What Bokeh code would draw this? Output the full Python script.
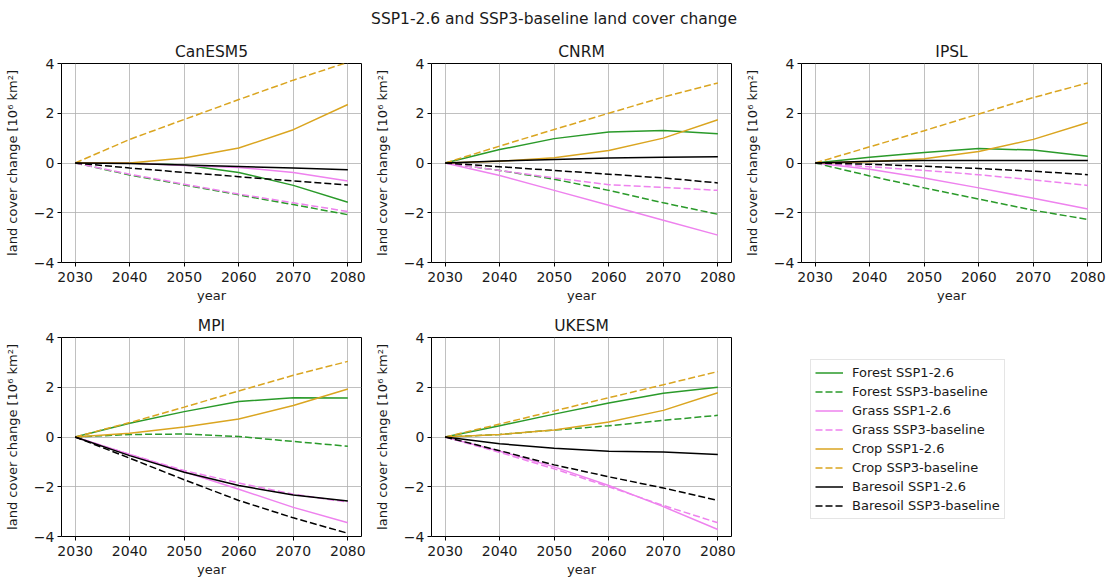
from bokeh.plotting import figure
from bokeh.layouts import row, column
from bokeh.models import Range1d, FixedTicker, Legend, LegendItem
from bokeh.embed import file_html
from bokeh.resources import INLINE

years = [2030, 2040, 2050, 2060, 2070, 2080]
models = ["CanESM5", "CNRM", "IPSL", "MPI", "UKESM"]
suptitle = "SSP1-2.6 and SSP3-baseline land cover change"
y_ticks = [-4, -2, 0, 2, 4]
y_tick_labels = ["−4", "−2", "0", "2", "4"]

# CanESM5
canesm5_forest_ssp126 = [0, 0.0, -0.08, -0.38, -0.9, -1.58]
canesm5_forest_ssp3 = [0, -0.48, -0.88, -1.28, -1.67, -2.08]
canesm5_grass_ssp126 = [0, 0.0, -0.1, -0.18, -0.38, -0.72]
canesm5_grass_ssp3 = [0, -0.45, -0.85, -1.25, -1.6, -1.95]
canesm5_crop_ssp126 = [0, 0.0, 0.2, 0.6, 1.34, 2.35]
canesm5_crop_ssp3 = [0, 0.95, 1.75, 2.55, 3.33, 4.05]
canesm5_bare_ssp126 = [0, -0.02, -0.08, -0.14, -0.2, -0.27]
canesm5_bare_ssp3 = [0, -0.2, -0.38, -0.55, -0.72, -0.88]

# CNRM
cnrm_forest_ssp126 = [0, 0.54, 0.98, 1.25, 1.31, 1.18]
cnrm_forest_ssp3 = [0, -0.3, -0.65, -1.1, -1.6, -2.06]
cnrm_grass_ssp126 = [0, -0.5, -1.1, -1.7, -2.3, -2.9]
cnrm_grass_ssp3 = [0, -0.3, -0.6, -0.87, -0.98, -1.1]
cnrm_crop_ssp126 = [0, 0.07, 0.21, 0.5, 1.0, 1.74]
cnrm_crop_ssp3 = [0, 0.68, 1.35, 2.0, 2.65, 3.22]
cnrm_bare_ssp126 = [0, 0.08, 0.14, 0.2, 0.23, 0.25]
cnrm_bare_ssp3 = [0, -0.15, -0.3, -0.45, -0.6, -0.8]

# IPSL
ipsl_forest_ssp126 = [0, 0.23, 0.42, 0.58, 0.52, 0.27]
ipsl_forest_ssp3 = [0, -0.52, -1.0, -1.45, -1.9, -2.27]
ipsl_grass_ssp126 = [0, -0.25, -0.6, -1.0, -1.42, -1.85]
ipsl_grass_ssp3 = [0, -0.15, -0.3, -0.47, -0.68, -0.9]
ipsl_crop_ssp126 = [0, 0.05, 0.17, 0.46, 0.95, 1.63]
ipsl_crop_ssp3 = [0, 0.65, 1.3, 1.97, 2.63, 3.22]
ipsl_bare_ssp126 = [0, 0.07, 0.1, 0.1, 0.1, 0.1]
ipsl_bare_ssp3 = [0, -0.05, -0.13, -0.22, -0.33, -0.47]

# MPI
mpi_forest_ssp126 = [0, 0.55, 1.02, 1.43, 1.58, 1.57]
mpi_forest_ssp3 = [0, 0.1, 0.12, 0.02, -0.18, -0.37]
mpi_grass_ssp126 = [0, -0.7, -1.4, -2.1, -2.83, -3.45]
mpi_grass_ssp3 = [0, -0.7, -1.35, -1.85, -2.3, -2.62]
mpi_crop_ssp126 = [0, 0.15, 0.4, 0.72, 1.27, 1.93]
mpi_crop_ssp3 = [0, 0.58, 1.2, 1.85, 2.48, 3.04]
mpi_bare_ssp126 = [0, -0.75, -1.42, -1.95, -2.33, -2.57]
mpi_bare_ssp3 = [0, -0.85, -1.72, -2.55, -3.25, -3.87]

# UKESM
ukesm_forest_ssp126 = [0, 0.45, 0.92, 1.37, 1.76, 2.0]
ukesm_forest_ssp3 = [0, 0.1, 0.28, 0.45, 0.67, 0.87]
ukesm_grass_ssp126 = [0, -0.57, -1.2, -1.95, -2.8, -3.72]
ukesm_grass_ssp3 = [0, -0.62, -1.28, -2.0, -2.75, -3.45]
ukesm_crop_ssp126 = [0, 0.1, 0.28, 0.6, 1.07, 1.78]
ukesm_crop_ssp3 = [0, 0.52, 1.05, 1.58, 2.1, 2.63]
ukesm_bare_ssp126 = [0, -0.27, -0.45, -0.57, -0.6, -0.7]
ukesm_bare_ssp3 = [0, -0.55, -1.12, -1.6, -2.05, -2.55]

series_labels = ["Forest SSP1-2.6", "Forest SSP3-baseline", "Grass SSP1-2.6", "Grass SSP3-baseline",
                 "Crop SSP1-2.6", "Crop SSP3-baseline", "Baresoil SSP1-2.6", "Baresoil SSP3-baseline"]

model_series = {
    "CanESM5": [canesm5_forest_ssp126, canesm5_forest_ssp3, canesm5_grass_ssp126, canesm5_grass_ssp3,
                canesm5_crop_ssp126, canesm5_crop_ssp3, canesm5_bare_ssp126, canesm5_bare_ssp3],
    "CNRM": [cnrm_forest_ssp126, cnrm_forest_ssp3, cnrm_grass_ssp126, cnrm_grass_ssp3,
             cnrm_crop_ssp126, cnrm_crop_ssp3, cnrm_bare_ssp126, cnrm_bare_ssp3],
    "IPSL": [ipsl_forest_ssp126, ipsl_forest_ssp3, ipsl_grass_ssp126, ipsl_grass_ssp3,
             ipsl_crop_ssp126, ipsl_crop_ssp3, ipsl_bare_ssp126, ipsl_bare_ssp3],
    "MPI": [mpi_forest_ssp126, mpi_forest_ssp3, mpi_grass_ssp126, mpi_grass_ssp3,
            mpi_crop_ssp126, mpi_crop_ssp3, mpi_bare_ssp126, mpi_bare_ssp3],
    "UKESM": [ukesm_forest_ssp126, ukesm_forest_ssp3, ukesm_grass_ssp126, ukesm_grass_ssp3,
              ukesm_crop_ssp126, ukesm_crop_ssp3, ukesm_bare_ssp126, ukesm_bare_ssp3],
}

colors = ["#2a9a2a", "#2a9a2a", "violet", "violet", "goldenrod", "goldenrod", "black", "black"]
dashes = ["solid", "7 3", "solid", "7 3", "solid", "7 3", "solid", "7 3"]

FONT = "DejaVu Sans"
TXT = "#1a1a1a"


def make_panel(name, width, height, left, right, top, bottom):
    p = figure(width=width, height=height, output_backend="svg", toolbar_location=None,
               x_range=Range1d(2027.5, 2082.5), y_range=Range1d(-4, 4),
               min_border_left=left, min_border_right=right,
               min_border_top=top, min_border_bottom=bottom, title=name)
    p.title.align = "center"
    p.title.text_font = FONT
    p.title.text_font_size = "15.5px"
    p.title.text_font_style = "normal"
    p.title.text_color = TXT
    p.title.standoff = 6
    p.outline_line_color = "black"
    p.outline_line_width = 1
    p.background_fill_color = "white"
    p.border_fill_color = "white"
    p.xaxis.ticker = FixedTicker(ticks=years)
    p.yaxis.ticker = FixedTicker(ticks=y_ticks)
    p.yaxis.major_label_overrides = {t: l for t, l in zip(y_ticks, y_tick_labels)}
    for ax in (p.xaxis, p.yaxis):
        ax.axis_line_color = None
        ax.major_tick_line_color = "black"
        ax.major_tick_in = 0
        ax.major_tick_out = 4
        ax.minor_tick_line_color = None
        ax.major_label_text_font = FONT
        ax.major_label_text_font_size = "14px"
        ax.major_label_text_color = TXT
        ax.axis_label_text_font = FONT
        ax.axis_label_text_font_size = "13px"
        ax.axis_label_text_font_style = "normal"
        ax.axis_label_text_color = TXT
    p.xaxis.axis_label = "year"
    p.xaxis.major_label_standoff = 5
    p.xaxis.axis_label_standoff = 3
    p.yaxis.axis_label = "land cover change [10⁶ km²]"
    p.yaxis.major_label_standoff = 3
    p.yaxis.axis_label_standoff = 11
    p.grid.grid_line_color = "#b0b0b0"
    p.grid.grid_line_width = 0.8
    p.xgrid.ticker = FixedTicker(ticks=years)
    p.ygrid.ticker = FixedTicker(ticks=y_ticks)
    for vals, c, d in zip(model_series[name], colors, dashes):
        p.line(years, vals, line_color=c, line_width=1.5, line_dash=d)
    return p


title_fig = figure(width=1107, height=36, output_backend="svg", toolbar_location=None,
                   min_border_left=0, min_border_right=0, min_border_bottom=0, min_border_top=28,
                   title=suptitle, x_axis_location=None, y_axis_location=None)
title_fig.title.align = "center"
title_fig.title.text_font = FONT
title_fig.title.text_font_size = "15.5px"
title_fig.title.text_font_style = "normal"
title_fig.title.text_color = TXT
title_fig.title.standoff = 2
title_fig.outline_line_color = None
title_fig.grid.visible = False

p1 = make_panel("CanESM5", 370, 269, 61, 9, 27, 43)
p2 = make_panel("CNRM", 370, 269, 61, 9, 27, 43)
p3 = make_panel("IPSL", 367, 269, 61, 6, 27, 43)
p4 = make_panel("MPI", 370, 274, 61, 9, 32, 43)
p5 = make_panel("UKESM", 370, 274, 61, 9, 32, 43)

# legend panel: lines drawn from the data but kept outside its (hidden) ranges
leg_fig = figure(width=367, height=274, output_backend="svg", toolbar_location=None,
                 x_range=Range1d(0, 1), y_range=Range1d(0, 1),
                 min_border_left=48, min_border_top=32, min_border_right=0, min_border_bottom=43,
                 x_axis_location=None, y_axis_location=None)
leg_fig.outline_line_color = None
leg_fig.grid.visible = False
items = []
for lab, vals, c, d in zip(series_labels, model_series["CanESM5"], colors, dashes):
    r = leg_fig.line(years, vals, line_color=c, line_width=1.5, line_dash=d)
    items.append(LegendItem(label=lab, renderers=[r]))
legend = Legend(items=items, location="top_left", margin=22, padding=4, spacing=2,
                glyph_width=28, glyph_height=17, label_height=17, label_standoff=9,
                label_text_font=FONT, label_text_font_size="13px", label_text_color=TXT,
                border_line_color="#cccccc", border_line_width=1, background_fill_alpha=1)
leg_fig.add_layout(legend, "center")

layout = column(title_fig, row(p1, p2, p3), row(p4, p5, leg_fig))

with open("out.html", "w") as f:
    f.write(file_html(layout, INLINE))
